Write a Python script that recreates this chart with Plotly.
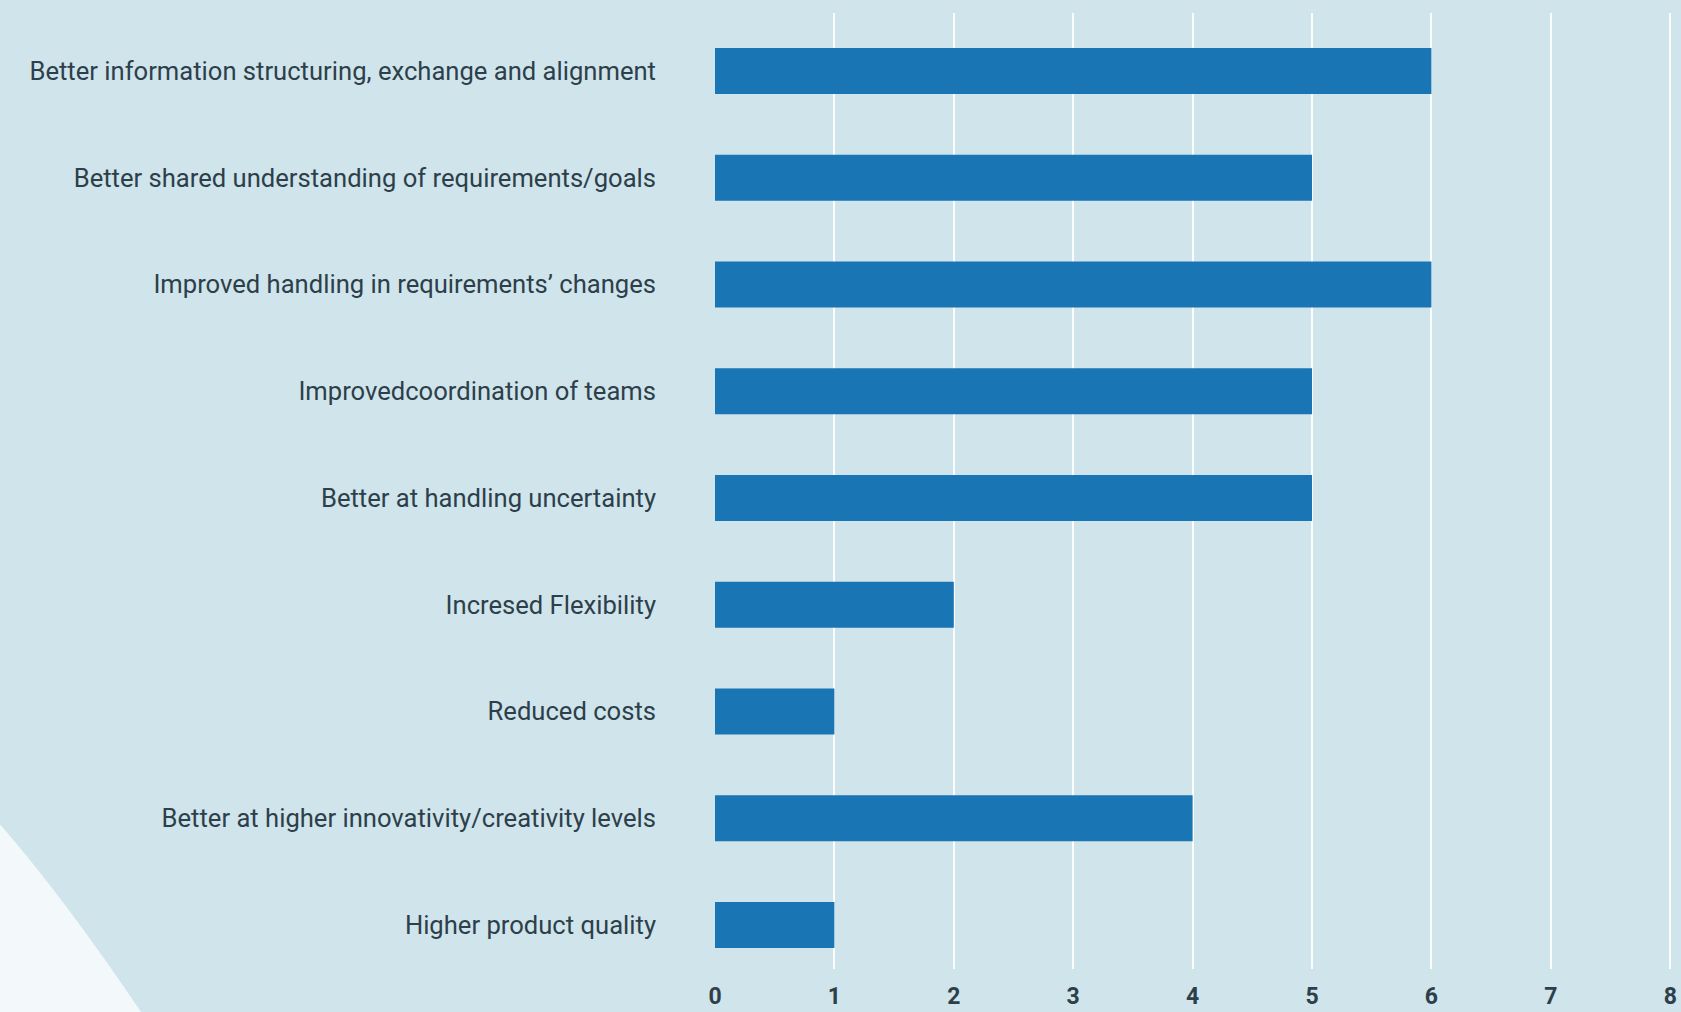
import plotly.graph_objects as go

categories = [
    "Better information structuring, exchange and alignment",
    "Better shared understanding of requirements/goals",
    "Improved handling in requirements’ changes",
    "Improvedcoordination of teams",
    "Better at handling uncertainty",
    "Incresed Flexibility",
    "Reduced costs",
    "Better at higher innovativity/creativity levels",
    "Higher product quality",
]
values = [6, 5, 6, 5, 5, 2, 1, 4, 1]
x_ticks = [0, 1, 2, 3, 4, 5, 6, 7, 8]

W, H = 1681, 1012
L, R, T, B = 715, 6, 13, 43
pw, ph = W - L - R, H - T - B

def px2paper(x, y):
    return (x - L) / pw, (H - B - y) / ph

BG = "#d0e4eb"
LIGHT = "#f3f8fa"
BAR = "#1a75b4"
TXT = "#2d3f4a"

fig = go.Figure(go.Bar(
    x=values, y=list(range(len(categories))), orientation="h",
    marker=dict(color=BAR, line=dict(width=0)),
    width=0.43, hoverinfo="x+y",
))

p0 = px2paper(-8, 815)
c = px2paper(67, 900)
p1 = px2paper(153, 1030)
p2 = px2paper(-20, 1030)
path = f"M {p0[0]},{p0[1]} Q {c[0]},{c[1]} {p1[0]},{p1[1]} L {p2[0]},{p2[1]} L {p2[0]},{p0[1]} Z"

fig.update_layout(
    width=W, height=H,
    margin=dict(l=L, r=R, t=T, b=B, autoexpand=False),
    paper_bgcolor=BG, plot_bgcolor=BG,
    showlegend=False,
    bargap=0.57,
    shapes=[dict(type="path", xref="paper", yref="paper", path=path,
                 fillcolor=LIGHT, line=dict(width=0), layer="below")],
    xaxis=dict(
        range=[0, 8.04], tickvals=x_ticks, ticktext=[str(v) for v in x_ticks],
        showgrid=True, gridcolor="rgba(255,255,255,0.9)", gridwidth=1.5,
        zeroline=False, showline=False, automargin=False,
        tickfont=dict(family="Roboto, sans-serif", size=23, color=TXT, weight="bold"),
        ticklabelstandoff=11, ticklabeloverflow="allow",
    ),
    yaxis=dict(
        range=[8.412, -0.543],
        tickvals=list(range(len(categories))), ticktext=categories,
        showgrid=False, zeroline=False, showline=False, automargin=False,
        tickfont=dict(family="Roboto, sans-serif", size=25.6, color=TXT),
        ticklabelstandoff=58,
    ),
)

fig.write_html("out.html", config={"displayModeBar": False},
               post_script="document.body.style.margin='0px';document.body.style.overflow='hidden';")
